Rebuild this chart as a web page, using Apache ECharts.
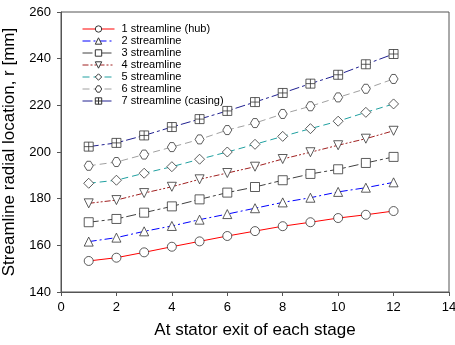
<!DOCTYPE html>
<html>
<head>
<meta charset="utf-8">
<script src="https://cdn.jsdelivr.net/npm/echarts@6/dist/echarts.min.js"></script>
<style>
  html, body { margin: 0; padding: 0; background: #fff; }
  #chart { width: 455px; height: 345px; }
</style>
</head>
<body>
<div id="chart"></div>
<script>
// stage number (x)
const stages = [1, 2, 3, 4, 5, 6, 7, 8, 9, 10, 11, 12]
const seriesNames = [
    '1 streamline (hub)', '2 streamline', '3 streamline', '4 streamline',
    '5 streamline', '6 streamline', '7 streamline (casing)'
]
// radial location, r [mm]
const hub = [153.3, 154.7, 157.0, 159.4, 161.7, 164.0, 166.1, 168.2, 169.9, 171.7, 173.1, 174.7]
const sl2 = [161.6, 163.3, 166.0, 168.3, 171.0, 173.4, 175.9, 178.4, 180.4, 182.9, 184.7, 187.0]
const sl3 = [169.9, 171.3, 174.0, 176.7, 179.7, 182.6, 185.0, 187.9, 190.6, 192.6, 195.3, 197.9]
const sl4 = [178.0, 179.4, 182.4, 185.1, 188.3, 191.0, 193.7, 197.0, 199.9, 202.9, 205.7, 209.1]
const sl5 = [186.6, 187.9, 190.9, 193.7, 196.9, 200.0, 203.3, 206.7, 210.0, 213.2, 217.0, 220.6]
const sl6 = [194.1, 195.7, 198.9, 202.1, 205.4, 209.4, 212.4, 216.3, 219.6, 223.4, 227.1, 231.3]
const casing = [202.3, 203.9, 207.1, 210.7, 214.1, 217.6, 221.4, 225.3, 229.3, 233.1, 237.6, 242.0]
const xTicks = [0, 14, 2]
const yTicks = [140, 260, 20]

const values = [hub, sl2, sl3, sl4, sl5, sl6, casing]
const lineColors = ['#ff0000', '#0000ff', '#404040', '#a02020', '#20a0a0', '#a0a0a0', '#202090']
const dashes = ['solid', [8, 3, 2, 3], [10, 3, 3, 3], [6, 2, 2, 2, 2, 2], [7, 4], [7, 4], [10, 3, 3, 3]]
const symbols = [
    'circle',
    'triangle',
    'rect',
    'path://M0,0 L10,0 L5,9 Z',
    'diamond',
    'path://M3,0 L7,0 L10,5 L7,10 L3,10 L0,5 Z',
    'path://M0,0 L10,0 L10,10 L0,10 Z M5,0 L5,10 M0,5 L10,5'
]

let myChart = echarts.init(document.getElementById('chart'))
const font = 'Liberation Sans, Arial, sans-serif'

myChart.setOption({
    animation: false,
    textStyle: { fontFamily: font, color: '#000' },
    grid: {
        left: 61, right: 6, top: 12, bottom: 53,
        outerBoundsMode: 'none',
        containLabel: false,
        show: true, borderColor: '#555', borderWidth: 1
    },
    legend: {
        orient: 'vertical',
        left: 77, top: 18,
        itemWidth: 32, itemHeight: 8, itemGap: 0,
        itemStyle: { borderWidth: 1 },
        lineStyle: { width: 1 },
        textStyle: { fontSize: 11, lineHeight: 12, color: '#000', fontFamily: font, padding: [0, 0, 0, 2] },
        data: seriesNames
    },
    xAxis: {
        type: 'value',
        min: xTicks[0], max: xTicks[1], interval: xTicks[2],
        name: 'At stator exit of each stage',
        nameLocation: 'middle', nameGap: 30,
        nameTextStyle: { fontSize: 17, color: '#000', fontFamily: font },
        axisLine: { lineStyle: { color: '#555' } },
        axisTick: { inside: false, length: 4, lineStyle: { color: '#555' } },
        axisLabel: { fontSize: 13, color: '#000', margin: 9 },
        splitLine: { show: false }
    },
    yAxis: {
        type: 'value',
        min: yTicks[0], max: yTicks[1], interval: yTicks[2],
        name: 'Streamline radial location, r [mm]',
        nameLocation: 'middle', nameGap: 43,
        nameTextStyle: { fontSize: 17, color: '#000', fontFamily: font },
        axisLine: { show: true, lineStyle: { color: '#555' } },
        axisTick: { show: true, inside: false, length: 4, lineStyle: { color: '#555' } },
        axisLabel: { fontSize: 13, color: '#000', margin: 10 },
        splitLine: { show: false }
    },
    series: values.map((v, i) => ({
        name: seriesNames[i],
        type: 'line',
        data: stages.map((s, j) => [s, v[j]]),
        symbol: symbols[i],
        symbolSize: i === 4 ? 10 : 9,
        showAllSymbol: true,
        lineStyle: { color: lineColors[i], width: 1, type: dashes[i] },
        itemStyle: { color: '#fff', borderColor: '#333', borderWidth: 0.8 }
    }))
})
</script>
</body>
</html>
